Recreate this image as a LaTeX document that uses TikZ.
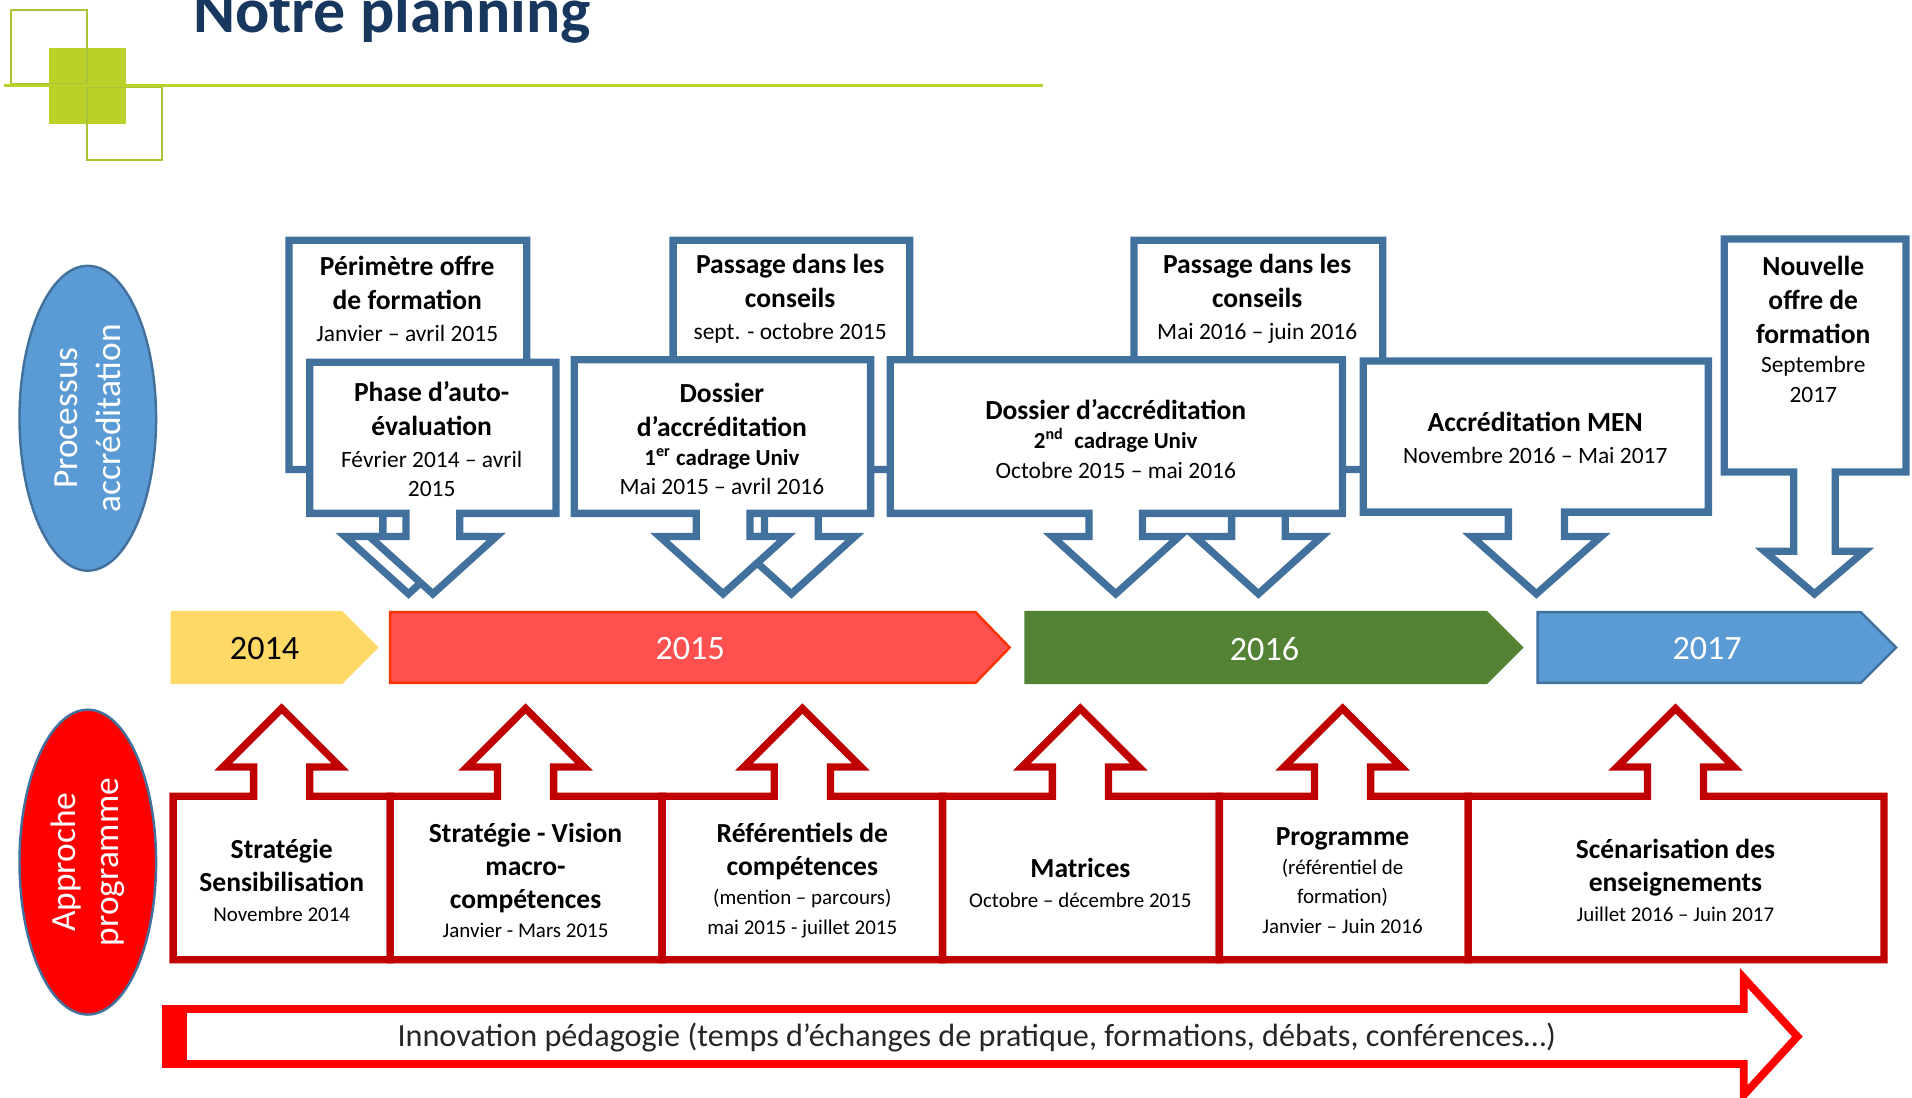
\documentclass[tikz,border=0pt]{standalone}
\usepackage{fontspec}
\setmainfont{Carlito}
\usetikzlibrary{shapes.geometric}

\definecolor{logogreen}{HTML}{BCD02A}
\definecolor{logoline}{HTML}{A9C435}
\definecolor{titlenavy}{HTML}{17375E}
\definecolor{callblue}{HTML}{41719C}
\definecolor{callred}{HTML}{C00000}
\definecolor{yearyellow}{HTML}{FFD966}
\definecolor{yearred}{HTML}{FF5050}
\definecolor{yearredline}{HTML}{FF3300}
\definecolor{yeargreen}{HTML}{548235}
\definecolor{yearblue}{HTML}{5B9BD5}
\definecolor{innored}{HTML}{FF0000}
\definecolor{innotext}{HTML}{262626}

\newcommand\calldate{\fontsize{9.6}{12}\selectfont\mdseries}
\newcommand\smalldate{\fontsize{8.6}{11}\selectfont\mdseries}
\newcommand\cadragefont{\fontsize{9.4}{11}\selectfont}

\begin{document}
\begin{tikzpicture}[x=0.5pt, y=-0.5pt,
  bluecall/.style={draw=callblue, fill=white, line width=3pt},
  redcall/.style={draw=callred, fill=white, line width=3pt},
  boxtext/.style={align=center, inner sep=0pt, font=\fontsize{11.3}{12}\selectfont\bfseries},
  yeartext/.style={font=\fontsize{14}{16}\selectfont, text=white},
  sidetext/.style={ellipse, line width=1pt, draw=callblue, text=white, rotate=90,
    minimum width=125pt, minimum height=56pt, inner sep=0pt, align=center,
    font=\fontsize{14.5}{17.5}\selectfont}]
\useasboundingbox (0,0) rectangle (1568,900);

% Callout with arrow down: x1, x2, top, bottom, arrow x, shaft, head, head base
\def\downcall#1#2#3#4#5#6#7#8{%
  \draw[bluecall] (#1,#3) -- (#2,#3) -- (#2,#4) -- ({#5+#6},#4) -- ({#5+#6},#8)
    -- ({#5+#7},#8) -- (#5,487) -- ({#5-#7},#8) -- ({#5-#6},#8) -- ({#5-#6},#4)
    -- (#1,#4) -- cycle;}
% Callout with arrow up: x1, x2, arrow x
\def\upcall#1#2#3{%
  \draw[redcall] (#1,787) -- (#1,653) -- ({#3-23},653) -- ({#3-23},629)
    -- ({#3-48},629) -- (#3,581) -- ({#3+48},629) -- ({#3+23},629)
    -- ({#3+23},653) -- (#2,653) -- (#2,787) -- cycle;}

% Logo and title
\fill[logogreen] (40,39) rectangle (103,102);
\draw[logoline, line width=0.8pt] (9,8) rectangle (71,69);
\draw[logoline, line width=0.8pt] (71,71) rectangle (133,131);
\draw[logogreen, line width=1.3pt] (3,70) -- (855,70);
\node[anchor=base west, inner sep=0pt, text=titlenavy,
  font=\fontsize{26.2}{30}\selectfont\bfseries] (title) at (158,27) {Notre planning};

% Side ellipses
\node[sidetext, fill=yearblue] (processus) at (72,343) {Processus\\accréditation};
\node[sidetext, fill=innored] (approche) at (72,707) {Approche\\programme};

% Back row of callouts
\downcall{237}{432}{197}{385}{335}{21}{52}{440}
\downcall{552}{746}{197}{385}{649}{22}{52}{440}
\downcall{930}{1134}{197}{385}{1032}{22}{52}{440}
\downcall{1414}{1563}{196}{387}{1488}{17}{41}{452}
\node[boxtext] (perimetre) at (334,245) {Périmètre offre\\[2pt] de formation\\[1pt] \calldate Janvier – avril 2015};
\node[boxtext] (conseils1) at (648,245) {Passage dans les\\[2pt] conseils\\[1pt] \calldate sept. - octobre 2015};
\node[boxtext] (conseils2) at (1031,245) {Passage dans les\\[2pt] conseils\\[1pt] \calldate Mai 2016 – juin 2016};
\node[boxtext] (nouvelle) at (1487,270) {Nouvelle\\[2pt] offre de\\[2pt] formation\\[0pt] \calldate Septembre\\ \calldate 2017};

% Front row of callouts
\downcall{254}{456}{297}{421}{355}{22}{52}{440}
\downcall{471}{714}{295}{421}{593}{22}{52}{440}
\downcall{730}{1101}{295}{421}{915}{22}{52}{440}
\downcall{1118}{1401}{296}{420}{1260}{23}{53}{440}
\node[boxtext] (phase) at (354,360) {Phase d’auto-\\[2pt] évaluation\\[1pt] \calldate Février 2014 – avril\\ \calldate 2015};
\node[boxtext] (dossier1) at (592,360) {Dossier\\[2pt] d’accréditation\\[0pt] \cadragefont 1\textsuperscript{er} cadrage Univ\\ \calldate Mai 2015 – avril 2016};
\node[boxtext] (dossier2) at (915,360) {Dossier d’accréditation\\[0pt] \cadragefont 2\textsuperscript{nd}\ \ cadrage Univ\\ \calldate Octobre 2015 – mai 2016};
\node[boxtext] (men) at (1259,359) {Accréditation MEN\\[1pt] \calldate Novembre 2016 – Mai 2017};

% Years
\draw[fill=yearyellow, draw=yearyellow, line width=1pt] (141,502) -- (280,502) -- (309,531) -- (280,560) -- (141,560) -- cycle;
\draw[fill=yearred, draw=yearredline, line width=1pt] (320,502) -- (800,502) -- (828,531) -- (800,560) -- (320,560) -- cycle;
\draw[fill=yeargreen, draw=yeargreen, line width=1pt] (841,502) -- (1219,502) -- (1248,531) -- (1219,560) -- (841,560) -- cycle;
\draw[fill=yearblue, draw=callblue, line width=1pt] (1261,502) -- (1526,502) -- (1555,531) -- (1526,560) -- (1261,560) -- cycle;
\node[yeartext, text=black] (y2014) at (217,532) {2014};
\node[yeartext] (y2015) at (566,532) {2015};
\node[yeartext] (y2016) at (1037,532) {2016};
\node[yeartext] (y2017) at (1400,532) {2017};

% Bottom callouts
\upcall{142}{320}{231}
\upcall{320}{543}{431}
\upcall{543}{773}{658}
\upcall{773}{1000}{886}
\upcall{1000}{1204}{1101}
\upcall{1204}{1545}{1374}
\node[boxtext] (sensib) at (231,722) {Stratégie\\[1.5pt] Sensibilisation\\[0pt] \smalldate Novembre 2014};
\node[boxtext] (vision) at (431,722) {Stratégie - Vision\\[1.5pt] macro-\\[1.5pt] compétences\\[0pt] \smalldate Janvier - Mars 2015};
\node[boxtext] (referentiels) at (658,722) {Référentiels de\\[1.5pt] compétences\\[0pt] \smalldate (mention – parcours)\\ \smalldate mai 2015 - juillet 2015};
\node[boxtext] (matrices) at (886,724) {Matrices\\[0pt] \smalldate Octobre – décembre 2015};
\node[boxtext] (programme) at (1101,722) {Programme\\[0pt] \smalldate (référentiel de\\ \smalldate formation)\\ \smalldate Janvier – Juin 2016};
\node[boxtext] (scenar) at (1374,722) {Scénarisation des\\[1.5pt] enseignements\\[0pt] \smalldate Juillet 2016 – Juin 2017};

% Innovation arrow
\fill[innored] (133,824) rectangle (153,876);
\draw[innored, line width=3.2pt] (150,827.5) -- (1430,827.5) -- (1430,802) -- (1474,850)
  -- (1430,898) -- (1430,872.5) -- (150,872.5);
\node[font=\fontsize{13.2}{15}\selectfont, text=innotext] (innovation) at (801,851)
  {Innovation pédagogie (temps d’échanges de pratique, formations, débats, conférences…)};
\end{tikzpicture}
\end{document}
